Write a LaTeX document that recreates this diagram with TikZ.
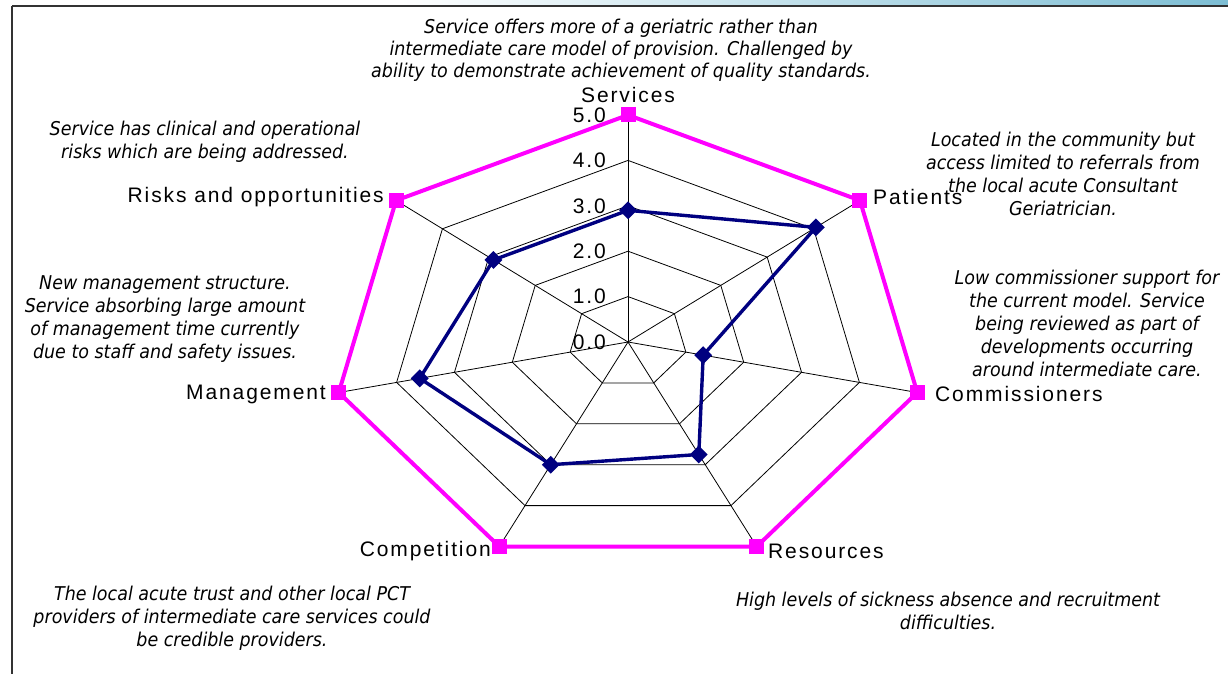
\documentclass[tikz,border=0pt]{standalone}
\usepackage{fontspec}
\setmainfont{Liberation Sans}
\newfontfamily\annfont{DejaVu Sans}[FakeStretch=0.92]
\newfontfamily\labfont{Liberation Sans}[LetterSpace=9]
\usetikzlibrary{shapes.geometric}
\definecolor{mag}{RGB}{255,0,255}
\definecolor{nav}{RGB}{0,0,128}
\definecolor{topblue}{RGB}{125,190,212}
\definecolor{framegray}{RGB}{50,50,50}
\begin{document}
\begin{tikzpicture}[x=1pt,y=-1pt,
  ann/.style={font=\annfont\itshape\fontsize{19}{23}\selectfont, align=center, inner sep=0},
  lab/.style={font=\labfont\fontsize{21}{24}\selectfont, inner sep=0},
  tick/.style={lab, anchor=east},
  gridline/.style={black, line width=0.8pt},
  maxline/.style={mag, line width=4pt, line join=miter},
  dataline/.style={nav, line width=3.4pt, line join=round},
  sqm/.style={fill=mag, rectangle, minimum size=15pt, inner sep=0, draw=none},
  dim/.style={fill=nav, diamond, minimum size=18pt, inner sep=0, draw=none}
]
\useasboundingbox (0,0) rectangle (1228,674);
\fill[white] (0,0) rectangle (1228,674);
\shade[left color=white, right color=topblue] (400,0) rectangle (1228,5);
\draw[framegray, line width=2pt] (12,6) -- (1228,6);
\draw[framegray, line width=1.5pt] (12,6) -- (12,674);

\coordinate (c) at (628,342);
\foreach \k in {0,...,6}{
  \coordinate (v\k) at ({628+296.7*cos(90-\k*360/7)},{342-227*sin(90-\k*360/7)});
}
% rings
\foreach \r in {1,2,3,4}{
  \draw[gridline] ({628},{342-45.4*\r})
    \foreach \k in {1,...,6}{ -- ({628+59.34*\r*cos(90-\k*360/7)},{342-45.4*\r*sin(90-\k*360/7)}) } -- cycle;
}
% axes
\foreach \k in {0,...,6}{ \draw[gridline] (c) -- (v\k); }

% max series
\draw[maxline] (v0) -- (v1) -- (v2) -- (v3) -- (v4) -- (v5) -- (v6) -- cycle;
\foreach \k in {0,...,6}{ \node[sqm] (m\k) at (v\k) {}; }

% data series
\foreach \k/\v in {0/2.9,1/4.05,2/1.3,3/2.75,4/3.0,5/3.6,6/2.9}{
  \coordinate (d\k) at ({628+59.34*\v*cos(90-\k*360/7)},{342-45.4*\v*sin(90-\k*360/7)});
}
\draw[dataline] (d0) -- (d1) -- (d2) -- (d3) -- (d4) -- (d5) -- (d6) -- cycle;
\foreach \k in {0,...,6}{ \node[dim] (p\k) at (d\k) {}; }

% tick labels
\foreach \i in {0,...,5}{ \node[tick] (t\i) at (606,{342-45.4*\i}) {\i.0}; }

% category labels
\node[lab] (lServices) at (628,95) {Services};
\node[lab, anchor=west] (lPatients) at (873,197) {Patients};
\node[lab, anchor=west] (lComm) at (935,394) {Commissioners};
\node[lab, anchor=west] (lRes) at (768,551) {Resources};
\node[lab, anchor=east] (lComp) at (491,551) {Competition};
\node[lab, anchor=east] (lMan) at (326,394) {Management};
\node[lab, anchor=east] (lRisk) at (384,197) {Risks and opportunities};

% annotations
\node[ann, font=\annfont\itshape\fontsize{19}{22}\selectfont] (aServ) at (621,50) {Service offers more of a geriatric rather than\\intermediate care model of provision. Challenged by\\ability to demonstrate achievement of quality standards.};
\node[ann] (aRisk) at (205,142) {Service has clinical and operational\\risks which are being addressed.};
\node[ann] (aPat) at (1063,174) {Located in the community but\\access limited to referrals from\\the local acute Consultant\\Geriatrician.};
\node[ann] (aComm) at (1087,323) {Low commissioner support for\\the current model. Service\\being reviewed as part of\\developments occurring\\around intermediate care.};
\node[ann] (aMan) at (165,319) {New management structure.\\Service absorbing large amount\\of management time currently\\due to staff and safety issues.};
\node[ann] (aComp) at (232,618) {The local acute trust and other local PCT\\providers of intermediate care services could\\be credible providers.};
\node[ann] (aRes) at (948,611) {High levels of sickness absence and recruitment\\difficulties.};
\end{tikzpicture}
\end{document}
